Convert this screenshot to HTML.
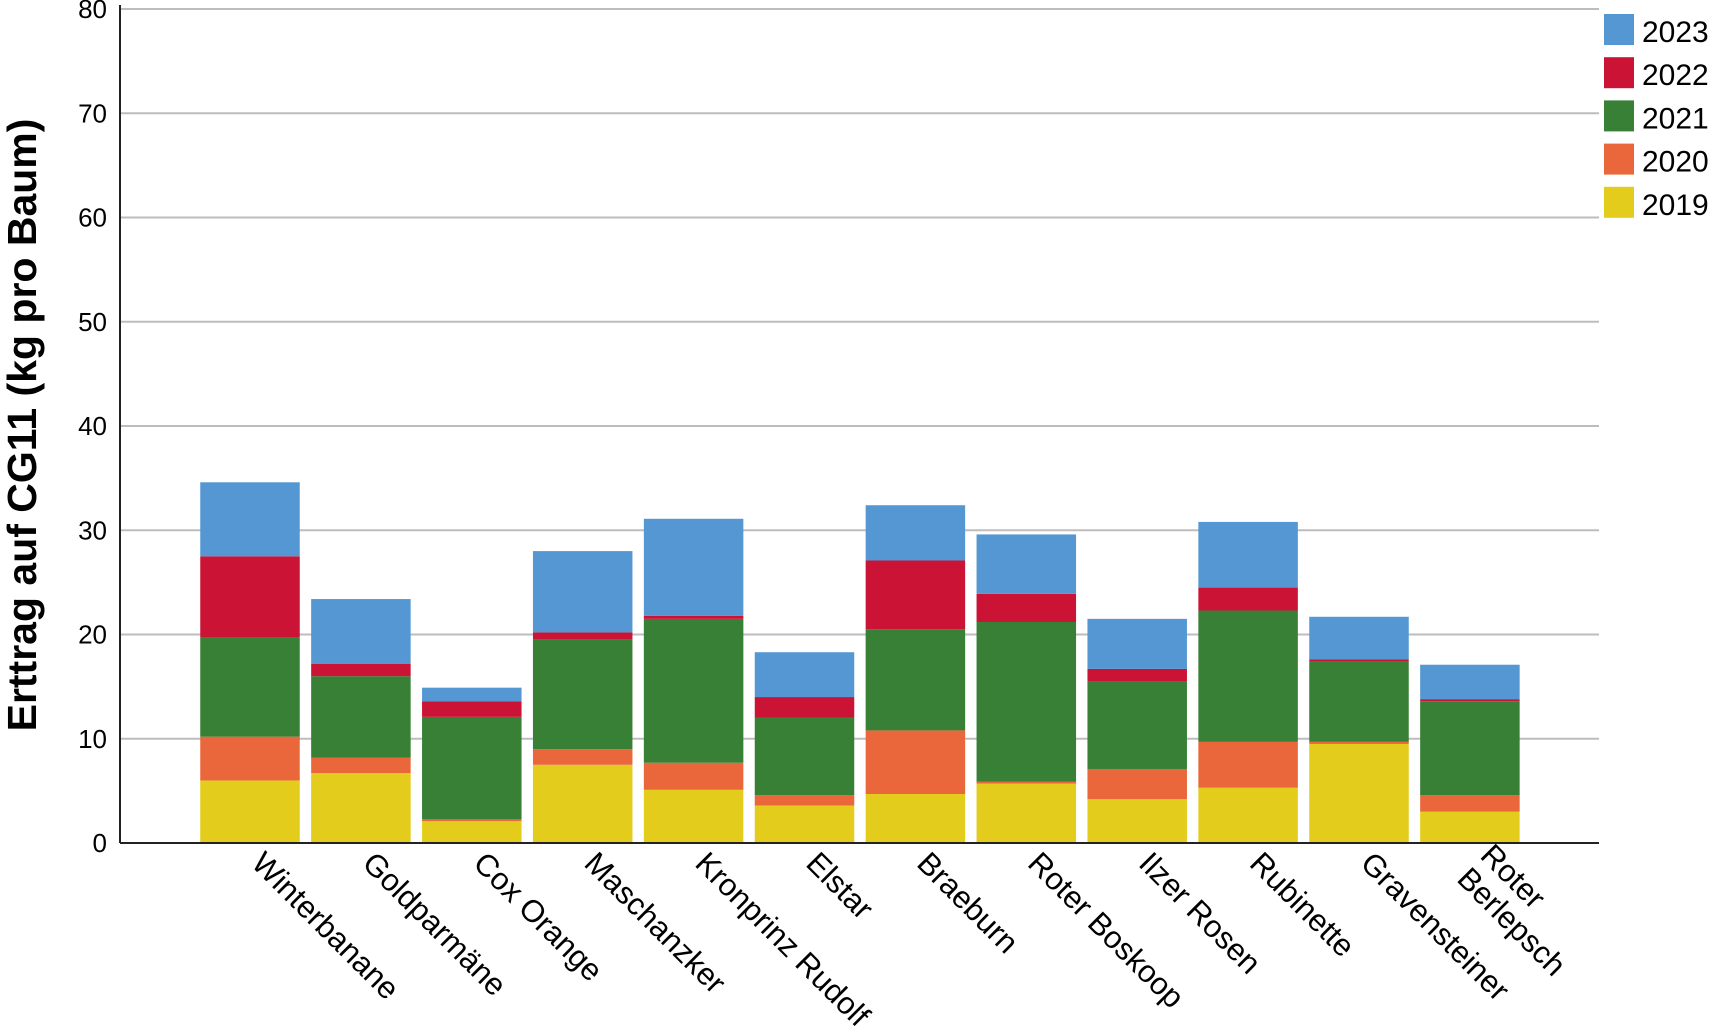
<!DOCTYPE html>
<html><head><meta charset="utf-8"><style>
html,body{margin:0;padding:0;background:#fff;}
svg{display:block;font-family:"Liberation Sans",sans-serif;}
</style></head><body>
<svg id="chart" width="1714" height="1029" viewBox="0 0 1714 1029" xmlns="http://www.w3.org/2000/svg">
<g id="grid"></g>
<g id="bars"></g>
<g id="axes"></g>
<g id="xlabels"></g>
<g id="legend"></g>
<text transform="translate(36,425) rotate(-90)" text-anchor="middle" font-size="41" font-weight="bold">Erttrag auf CG11 (kg pro Baum)</text>
</svg>
<script>
const categories = ["Winterbanane","Goldparmäne","Cox Orange","Maschanzker","Kronprinz Rudolf","Elstar","Braeburn","Roter Boskoop","Ilzer Rosen","Rubinette","Gravensteiner","Roter Berlepsch"];
const years = ["2019","2020","2021","2022","2023"];
const v2019 = [6.0,6.7,2.1,7.5,5.1,3.6,4.7,5.7,4.2,5.3,9.5,3.0];
const v2020 = [4.2,1.5,0.2,1.5,2.6,1.0,6.1,0.2,2.9,4.4,0.2,1.6];
const v2021 = [9.5,7.8,9.8,10.5,13.8,7.4,9.7,15.3,8.4,12.6,7.7,9.0];
const v2022 = [7.8,1.2,1.5,0.7,0.3,2.0,6.6,2.7,1.2,2.2,0.2,0.2];
const v2023 = [7.1,6.2,1.3,7.8,9.3,4.3,5.3,5.7,4.8,6.3,4.1,3.3];
const yTicks = [0,10,20,30,40,50,60,70,80];
const colors = ["#e4cc1c","#e9673b","#378036","#cb1335","#5497d2"];
const series = [v2019,v2020,v2021,v2022,v2023];

const NS="http://www.w3.org/2000/svg";
const X0=120, X1=1599, Y0=843, Y80=9;
const y = v => Y0 - (v/80)*(Y0-Y80);
const xc = i => 250 + i*110.9;
const BW = 99.5;
function mk(tag, parent){const e=document.createElementNS(NS,tag);parent.appendChild(e);return e;}
const grid=document.getElementById('grid'), bars=document.getElementById('bars'), axes=document.getElementById('axes'), xl=document.getElementById('xlabels'), lg=document.getElementById('legend');

yTicks.forEach(t=>{
  if(t>0){const l=mk('line',grid);
  
  
  l.setAttribute('x1',X0);l.setAttribute('x2',X1);l.setAttribute('y1',y(t));l.setAttribute('y2',y(t));
  l.setAttribute('stroke','#bdbdbd');l.setAttribute('stroke-width','2');}
  const tx=mk('text',axes);
  
  
  tx.setAttribute('x',107);tx.setAttribute('y',y(t)+9);tx.setAttribute('text-anchor','end');tx.setAttribute('font-size','26');
  tx.textContent=t;
});

categories.forEach((c,i)=>{
  let base=0;
  series.forEach((s,k)=>{
    const r=mk('rect',bars);
    
    
    r.setAttribute('x',xc(i)-BW/2);r.setAttribute('width',BW);
    r.setAttribute('y',y(base+s[i]));r.setAttribute('height',y(base)-y(base+s[i]));
    r.setAttribute('fill',colors[k]);
    base+=s[i];
  });
  const t=mk('text',xl);
  
  
  t.setAttribute('font-size','31');
  const parts=c==="Roter Berlepsch"?["Roter","Berlepsch"]:[c];
  if(parts.length>1){
    t.setAttribute('transform','translate('+(xc(i)+9)+','+(Y0+14)+') rotate(45)');
  } else {
    t.setAttribute('transform','translate('+(xc(i)+0)+','+(Y0+22)+') rotate(45)');
  }
  parts.forEach((p,j)=>{const ts=mk('tspan',t);ts.setAttribute('x',0);ts.setAttribute('y',j*33);ts.textContent=p;});
});

const ax=mk('line',axes);


ax.setAttribute('x1',X0);ax.setAttribute('x2',X0);ax.setAttribute('y1',Y80-4);ax.setAttribute('y2',Y0);ax.setAttribute('stroke','#222');ax.setAttribute('stroke-width','2');
const bx=mk('line',axes);


bx.setAttribute('x1',X0);bx.setAttribute('x2',X1);bx.setAttribute('y1',Y0);bx.setAttribute('y2',Y0);bx.setAttribute('stroke','#222');bx.setAttribute('stroke-width','2');

for(let k=4;k>=0;k--){
  const row=4-k, top=14+row*43.2;
  const r=mk('rect',lg);
  
  
  r.setAttribute('x',1604);r.setAttribute('y',top);r.setAttribute('width',30);r.setAttribute('height',31);r.setAttribute('fill',colors[k]);
  const t=mk('text',lg);
  
  
  t.setAttribute('x',1642);t.setAttribute('y',top+28);t.setAttribute('font-size','30');
  t.textContent=years[k];
}
</script>
</body></html>
